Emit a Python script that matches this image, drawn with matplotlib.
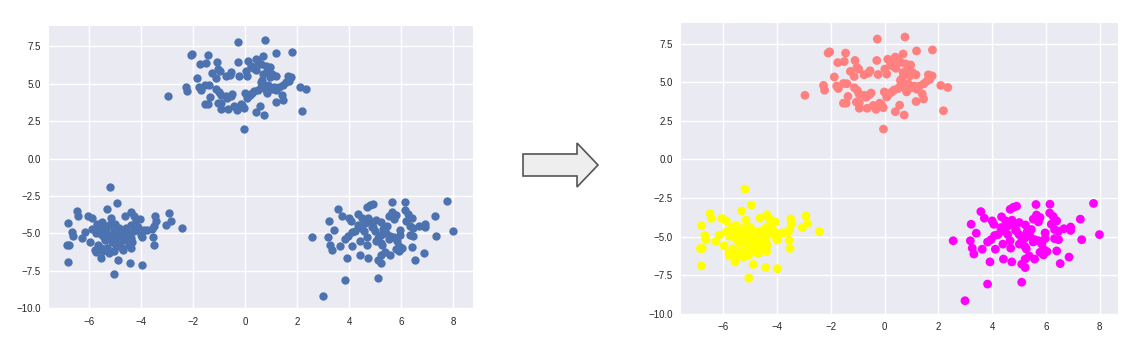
import matplotlib
matplotlib.use("Agg")
import matplotlib.pyplot as plt
from matplotlib.patches import Polygon
import numpy as np

# ---- data ----
top_x = [-0.27, 0.76, -2.1, -2.04, -1.45, 1.19, 1.78, -1.74, -1.5, -1.1, -0.29, 0.12, 0.4, 0.69,
         0.5, 0.22, 0.59, 0.97, 0.78, -1.27, -0.96, -1.03, -0.54, -0.76, -0.24, 0.01, 0.08, 0.42,
         -1.87, -1.13, 0.69, 0.85, 1.04, 1.17, 0.94, 0.65, 0.59, 1.63, 1.77, 1.68, 0.88, 1.1, 1.29,
         1.46, 1.58, -1.78, -1.72, -1.53, -1.4, -2.27, -2.23, -2.96, 2.09, 2.35, -1.12, -1.01,
         -0.95, -0.76, -0.56, -0.69, -1.36, -1.05, -0.94, -1.53, -1.43, -0.94, -0.65, -0.42, -0.32,
         -0.12, -0.05, -0.01, 0.08, 0.17, 0.27, 0.5, 0.59, 0.82, 0.78, 1.01, 1.4, 1.45, 1.17, 0.56,
         0.4, 0.73, 2.19, -0.04, -0.5, -0.18, 0.3, -0.6, 1.2, 0.35]
top_y = [7.81, 7.94, 6.9, 6.98, 6.9, 7.04, 7.1, 6.28, 6.35, 6.42, 6.42, 6.5, 6.64, 6.84,
         6.46, 6.19, 6.3, 6.13, 6.2, 5.71, 5.86, 5.97, 5.75, 5.49, 5.51, 5.86, 5.53, 5.91,
         5.35, 5.38, 5.64, 5.75, 5.64, 5.49, 5.42, 5.24, 5.13, 5.49, 5.42, 5.2, 4.91, 4.76, 4.76,
         4.91, 5.09, 4.76, 4.6, 4.93, 4.91, 4.8, 4.49, 4.16, 4.8, 4.67, 4.65, 4.47,
         4.25, 4.16, 4.2, 4.03, 4.09, 3.72, 3.69, 3.65, 3.65, 3.32, 3.32, 3.5, 3.25,
         3.58, 3.36, 4.38, 4.05, 4.25, 4.38, 4.6, 4.76, 4.38, 4.58, 4.65, 4.25, 3.92, 3.76, 3.52,
         3.1, 2.88, 3.16, 1.97, 4.31, 3.65, 6.05, 5.6, 4.55, 4.5]

bl_x = [-5.19, -4.95, -5.31, -6.49, -6.44, -6.05, -5.88, -5.15, -4.63, -4.38, -4.28, -4.06, -4.19,
        -3.49, -3.45, -2.92, -2.87, -3.06, -2.42, -6.81, -5.53, -5.46, -5.24, -5.05, -4.86, -4.6,
        -4.41, -4.12, -3.77, -3.6, -3.53, -6.68, -6.64, -6.28, -6.15, -5.88, -5.76, -5.67, -5.56,
        -5.37, -5.18, -5.05, -4.92, -4.79, -4.67, -4.54, -4.41, -4.28, -4.03, -3.99, -3.55, -3.51,
        -6.85, -6.78, -5.97, -5.79, -5.76, -5.65, -5.56, -5.46, -5.31, -5.24, -5.4, -5.12, -4.99,
        -4.86, -4.73, -5.05, -5.56, -4.49, -4.36, -4.39, -4.89, -5.05, -4.42, -3.99, -6.81,
        -4.96, -5.24, -5.49, -4.73, -5.0, -4.7, -5.3, -4.5, -5.7, -4.2, -3.9]
bl_y = [-1.92, -2.96, -3.34, -3.5, -3.81, -3.83, -3.98, -3.94, -3.81, -3.58, -3.87, -4.05, -4.12,
        -3.85, -4.14, -3.67, -4.16, -4.42, -4.67, -4.29, -4.27, -4.54, -4.47, -4.71, -4.65, -4.65,
        -4.42, -4.6, -4.76, -4.69, -4.54, -4.93, -5.2, -5.31, -4.91, -4.69, -4.98, -4.76, -5.04,
        -4.87, -5.09, -5.27, -4.98, -5.2, -5.42, -4.93, -5.31, -4.82, -5.09, -5.22, -5.24, -5.77,
        -5.77, -5.77, -5.6, -6.08, -6.26, -5.79, -5.97, -6.19, -5.97, -6.33, -5.42, -5.58, -5.82,
        -5.64, -5.97, -6.19, -6.64, -5.75, -5.58, -5.97, -6.81, -7.7, -7.01, -7.08, -6.9,
        -5.42, -5.31, -5.2, -4.87, -4.4, -6.1, -6.0, -5.1, -4.4, -4.7, -4.8]

br_x = [7.77, 6.15, 5.63, 4.91, 4.79, 4.67, 5.65, 5.78, 5.53, 6.14, 6.27, 6.4, 3.58, 3.71, 4.35,
        4.0, 4.06, 4.5, 4.74, 4.79, 5.01, 5.24, 5.46, 5.72, 7.28, 6.92, 6.67, 6.92, 6.32, 6.47,
        3.22, 3.41, 4.32, 4.45, 4.58, 4.87, 5.0, 5.22, 5.41, 5.58, 5.97, 5.97, 6.32, 6.47, 7.33,
        7.99, 2.55, 3.19, 3.26, 3.32, 3.63, 3.83, 3.96, 4.09, 4.22, 4.12, 4.4, 4.67, 4.69, 5.01,
        5.22, 5.27, 5.53, 5.72, 5.85, 5.91, 5.78, 5.91, 6.04, 6.4, 5.23, 5.38, 5.58, 6.86, 3.92,
        4.42, 4.73, 5.1, 5.23, 6.53, 3.83, 5.1, 2.99, 4.9, 5.3, 5.1, 4.6, 6.2]
br_y = [-2.85, -2.9, -2.92, -3.03, -3.1, -3.23, -3.6, -3.76, -3.87, -3.47, -3.69, -3.98, -3.38,
        -3.81, -3.72, -3.98, -4.2, -3.98, -3.94, -4.16, -4.09, -4.25, -4.54, -4.05, -3.87, -4.38,
        -4.49, -4.6, -4.54, -4.65, -4.2, -4.78, -4.42, -4.65, -4.87, -4.6, -4.87, -5.09, -4.98,
        -5.2, -4.76, -5.13, -5.13, -5.2, -5.2, -4.87, -5.27, -5.27, -5.75, -6.13, -5.82, -5.35,
        -5.2, -4.93, -4.87, -5.82, -5.49, -5.27, -5.75, -5.49, -5.64, -5.8, -5.35, -5.27, -5.49,
        -5.82, -6.02, -6.19, -5.97, -5.93, -6.46, -6.26, -6.46, -6.33, -6.64, -6.46, -6.64, -6.79,
        -7.01, -6.75, -8.08, -7.96, -9.16, -4.6, -4.7, -5.3, -4.3, -4.2]

labels_top, labels_bl, labels_br = 1, 2, 0

x_all = np.array(top_x + bl_x + br_x)
y_all = np.array(top_y + bl_y + br_y)
lab_all = np.array([labels_top] * len(top_x) + [labels_bl] * len(bl_x) + [labels_br] * len(br_x))

xticks = [-6, -4, -2, 0, 2, 4, 6, 8]
yticks = [-10.0, -7.5, -5.0, -2.5, 0.0, 2.5, 5.0, 7.5]

plt.rcParams['font.family'] = ['Liberation Sans', 'DejaVu Sans']

fig = plt.figure(figsize=(11.33, 3.55), dpi=100)
W, H = 1133, 355


def style(ax):
    ax.set_facecolor('#EAEAF2')
    for s in ax.spines.values():
        s.set_visible(False)
    ax.grid(True, color='white', linewidth=1.0)
    ax.set_axisbelow(True)
    ax.tick_params(length=0, labelsize=7, labelcolor='#262626', pad=6)
    ax.set_xticks(xticks)
    ax.set_yticks(yticks)
    ax.set_yticklabels([f"{v:.1f}".replace('-', '\u2212') for v in yticks])


ax1 = fig.add_axes([49 / W, 1 - 309 / H, 424 / W, 283 / H])
style(ax1)
ax1.scatter(x_all, y_all, s=36, color='#4C72B0', linewidths=0)
ax1.set_xlim(-7.55, 8.76)
ax1.set_ylim(-10.05, 8.85)

ax2 = fig.add_axes([681 / W, 1 - 314 / H, 437 / W, 291 / H])
style(ax2)
ax2.scatter(x_all, y_all, s=40, c=lab_all, cmap='spring', vmin=0, vmax=2, linewidths=0)
ax2.set_xlim(-7.57, 8.68)
ax2.set_ylim(-10.02, 8.85)

# block arrow between the panels
pts = [(523, 154), (577, 154), (577, 143), (598, 165), (577, 187), (577, 176), (523, 176)]
poly = Polygon([(px / W, 1 - py / H) for px, py in pts], closed=True,
               facecolor='#EEEEEE', edgecolor='#555555', linewidth=1.2,
               transform=fig.transFigure)
fig.patches.append(poly)

fig.savefig('out.png', dpi=100)
